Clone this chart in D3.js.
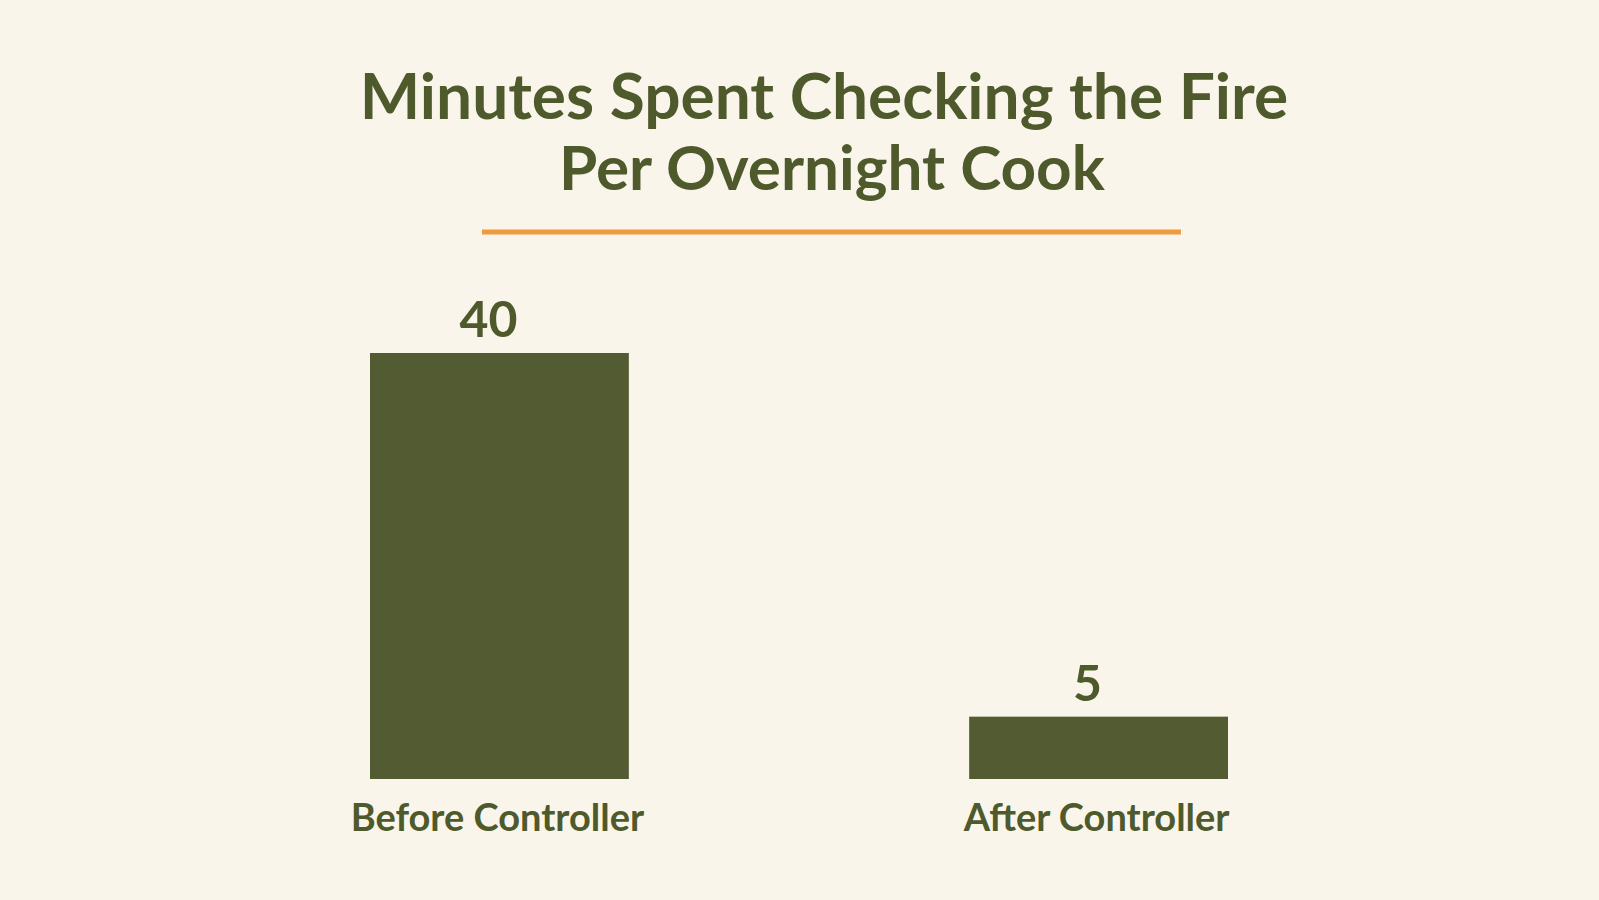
<script src="https://d3js.org/d3.v7.min.js"></script>
<style>
  html, body { margin: 0; padding: 0; background: #faf5eb; }
  text { font-family: Lato, "Noto Sans", sans-serif; fill: #4e5a2c; }
</style>
<body>
<script>
// chart data
var categories = ["Before Controller", "After Controller"];
var values = [40, 5];
var titleLines = ["Minutes Spent Checking the Fire", "Per Overnight Cook"];

const W = 1599, H = 900;
const barColor = "#525b31";

const svg = d3.select("body")
  .append("svg")
  .attr("width", W)
  .attr("height", H);

svg.append("rect")
  .attr("width", W).attr("height", H)
  .attr("fill", "#faf5eb");

// title
svg.selectAll(".title")
  .data(titleLines)
  .enter()
  .append("text")
  .attr("class", "title")
  .attr("x", function(d, i) { return i == 0 ? 824 : 832; })
  .attr("y", function(d, i) { return 119 + i * 71; })
  .attr("text-anchor", "middle")
  .style("font-size", function(d, i) { return i == 0 ? "64px" : "62px"; })
  .style("font-weight", 700)
  .text(function(d) { return d; });

// orange rule under the title
svg.append("line")
  .attr("x1", 482).attr("x2", 1181)
  .attr("y1", 232).attr("y2", 232)
  .attr("stroke", "#ef9a3c")
  .attr("stroke-width", 5);

// scales
var x = d3.scaleBand()
  .domain(categories)
  .range([370, 1228])
  .paddingInner(0.568)
  .paddingOuter(0);

var y = d3.scaleLinear()
  .domain([-1, 40])
  .range([779, 353]);

var bars = svg.selectAll(".bar")
  .data(values)
  .enter()
  .append("g")
  .attr("class", "bar");

bars.append("rect")
  .attr("x", function(d, i) { return x(categories[i]); })
  .attr("width", x.bandwidth())
  .attr("y", function(d) { return y(d); })
  .attr("height", function(d) { return y(-1) - y(d); })
  .attr("fill", barColor);

// value labels
bars.append("text")
  .attr("x", function(d, i) { return x(categories[i]) + x.bandwidth() / 2 - 11; })
  .attr("y", function(d) { return y(d) - 16; })
  .attr("text-anchor", "middle")
  .style("font-size", "50px")
  .style("font-weight", 700)
  .text(function(d) { return d; });

// category labels
bars.append("text")
  .attr("x", function(d, i) { return x(categories[i]) + x.bandwidth() / 2 - 2; })
  .attr("y", 831)
  .attr("text-anchor", "middle")
  .style("font-size", "38px")
  .style("font-weight", 700)
  .text(function(d, i) { return categories[i]; });
</script>
</body>
